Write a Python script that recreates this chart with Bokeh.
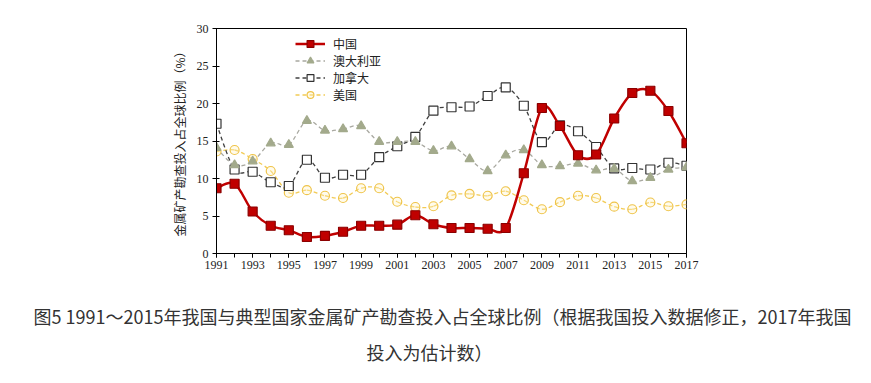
import numpy as np
from bokeh.plotting import figure
from bokeh.models import Range1d, FixedTicker, Legend, LegendItem, Title, LinearAxis
from bokeh.embed import file_html
from bokeh.resources import INLINE

years = list(range(1991, 2018))
china = [8.7, 9.3, 5.6, 3.7, 3.1, 2.2, 2.35, 2.9, 3.7, 3.7, 3.85, 5.1, 3.9, 3.4,
         3.4, 3.3, 3.4, 10.7, 19.4, 17.0, 13.1, 13.2, 18.0, 21.4, 21.7, 19.0, 14.7]
australia = [14.1, 11.8, 12.3, 14.7, 14.5, 17.7, 16.4, 16.6, 17.0, 14.9, 14.9, 14.9, 13.7, 14.3,
             12.6, 11.0, 13.1, 13.8, 11.8, 11.65, 12.0, 11.1, 11.3, 9.65, 10.1, 11.2, 11.5]
canada = [17.3, 11.2, 10.9, 9.5, 9.0, 12.5, 10.1, 10.5, 10.5, 12.85, 14.3, 15.55, 19.05, 19.5,
          19.6, 21.0, 22.15, 19.7, 14.85, 17.1, 16.3, 14.2, 11.35, 11.4, 11.2, 12.1, 11.7]
usa = [13.6, 13.8, 12.6, 11.0, 8.1, 8.45, 7.7, 7.4, 8.7, 8.7, 6.9, 6.2, 6.3, 7.75,
       7.95, 7.7, 8.3, 7.1, 5.9, 6.85, 7.7, 7.4, 6.25, 5.9, 6.8, 6.3, 6.55]
labels = ["中国", "澳大利亚", "加拿大", "美国"]
x_ticks = list(range(1991, 2018, 2))
y_ticks = [0, 5, 10, 15, 20, 25, 30]
caption1 = "图5 1991～2015年我国与典型国家金属矿产勘查投入占全球比例（根据我国投入数据修正，2017年我国"
caption2 = "投入为估计数）"
ylabel = "金属矿产勘查投入占全球比例（%）"


def smooth(xs, ys):
    x = np.array(xs, float)
    y = np.array(ys, float)
    n = len(x)
    xp = np.concatenate([[x[0]], x, [x[-1]]])
    yp = np.concatenate([[y[0]], y, [y[-1]]])
    i = np.arange(n - 1)
    return dict(
        x0=x[:-1], y0=y[:-1], x1=x[1:], y1=y[1:],
        cx0=x[:-1] + (xp[i + 2] - xp[i]) / 6, cy0=y[:-1] + (yp[i + 2] - yp[i]) / 6,
        cx1=x[1:] - (xp[i + 3] - xp[i + 1]) / 6, cy1=y[1:] - (yp[i + 3] - yp[i + 1]) / 6,
    )


p = figure(width=855, height=380, output_backend="svg", toolbar_location=None,
           x_range=Range1d(1991, 2017), y_range=Range1d(0, 30),
           min_border_left=216, min_border_right=169, min_border_top=28, min_border_bottom=127)
p.xgrid.visible = False
p.ygrid.visible = False
p.outline_line_color = "black"
p.outline_line_width = 1

for ax in (p.xaxis[0], p.yaxis[0]):
    ax.axis_line_color = "black"
    ax.major_tick_line_color = "black"
    ax.minor_tick_line_color = "black"
    ax.major_label_text_font = "Liberation Serif"
    ax.major_label_text_font_size = "12px"
    ax.major_label_text_color = "#222222"

p.xaxis.ticker = FixedTicker(ticks=x_ticks, minor_ticks=years)
p.xaxis.major_tick_in = 0
p.xaxis.major_tick_out = 4
p.xaxis.minor_tick_in = 0
p.xaxis.minor_tick_out = 4
p.xaxis.major_label_standoff = 3

p.yaxis.ticker = FixedTicker(ticks=y_ticks, minor_ticks=[])
p.yaxis.major_tick_in = 3
p.yaxis.major_tick_out = 4
p.yaxis.major_label_standoff = 4
p.yaxis.axis_label = ylabel
p.yaxis.axis_label_text_font = "Noto Sans CJK SC"
p.yaxis.axis_label_text_font_size = "12px"
p.yaxis.axis_label_text_font_style = "normal"
p.yaxis.axis_label_text_color = "#222222"
p.yaxis.axis_label_standoff = 6

styles = [
    dict(line_color="#C00000", line_width=2.5, line_dash="solid",
         marker="square", size=9, fill_color="#C00000", m_line="#8B0000", alpha=1.0),
    dict(line_color="#A8A8A0", line_width=1.3, line_dash="4 3",
         marker="triangle", size=9, fill_color="#A3AA8C", m_line="#A3AA8C", alpha=1.0),
    dict(line_color="#404040", line_width=1.3, line_dash="4 3",
         marker="square", size=9, fill_color="white", m_line="#333333", alpha=1.0),
    dict(line_color="#F2CB55", line_width=1.3, line_dash="4 3",
         marker="circle", size=9, fill_color="#FFF3C8", m_line="#EFC44A", alpha=0.35),
]

order = [3, 2, 1, 0]
series = [china, australia, canada, usa]
rends = {}
for k in order:
    st = styles[k]
    bz = p.bezier(source=smooth(years, series[k]), x0="x0", y0="y0", x1="x1", y1="y1",
                  cx0="cx0", cy0="cy0", cx1="cx1", cy1="cy1",
                  line_color=st["line_color"], line_width=st["line_width"], line_dash=st["line_dash"])
    sc = p.scatter(years, series[k], marker=st["marker"], size=st["size"],
                   fill_color=st["fill_color"], line_color=st["m_line"], line_width=1.2,
                   fill_alpha=st["alpha"])
    rends[k] = (bz, sc)

items = [LegendItem(label=labels[k], renderers=list(rends[k])) for k in range(4)]

legend = Legend(items=items, location=(79, 150), border_line_color=None,
                background_fill_alpha=0, padding=0, spacing=0, margin=0,
                label_height=17, glyph_height=17, glyph_width=30, label_standoff=8,
                label_text_font="Noto Sans CJK SC", label_text_font_size="12px",
                label_text_color="#222222")
p.add_layout(legend)

# invisible spacer between the x axis and the caption
spacer = LinearAxis(ticker=FixedTicker(ticks=[1991], minor_ticks=[]), axis_line_color=None,
                    major_tick_line_color=None, minor_tick_line_color=None,
                    major_tick_in=0, major_tick_out=19, minor_tick_in=0, minor_tick_out=0,
                    major_label_standoff=0, major_label_overrides={1991: ""})
p.add_layout(spacer, "below")

t1 = Title(text=caption1, align="left", offset=-183, vertical_align="bottom",
           text_font="Noto Sans CJK SC", text_font_size="18px", text_font_style="normal",
           text_color="#333333", standoff=20)
t2 = Title(text=caption2, align="left", offset=150, vertical_align="top",
           text_font="Noto Sans CJK SC", text_font_size="18px", text_font_style="normal",
           text_color="#333333", standoff=0)
p.add_layout(t1, "below")
p.add_layout(t2, "below")

open("out.html", "w").write(file_html(p, INLINE))
